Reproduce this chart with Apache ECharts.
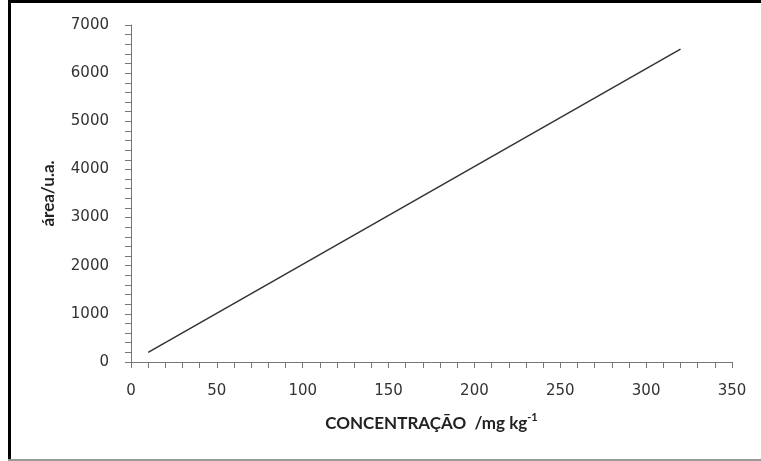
<!DOCTYPE html>
<html>
<head>
<meta charset="utf-8">
<script src="https://cdn.jsdelivr.net/npm/echarts@6/dist/echarts.min.js"></script>
<style>html,body{margin:0;padding:0;background:#fff}#c{width:761px;height:461px}</style>
</head>
<body>
<div id="c"></div>
<script>
var concentration = [10, 320];
var area = [200, 6500];
var xTicks = [0, 50, 100, 150, 200, 250, 300, 350];
var yTicks = [0, 1000, 2000, 3000, 4000, 5000, 6000, 7000];

var chart = echarts.init(document.getElementById('c'), null, {renderer: 'canvas'});
function plain(v) { return String(v); }
chart.setOption({
  animation: false,
  backgroundColor: '#fff',
  grid: {left: 131, right: 29, top: 25, bottom: 99},
  xAxis: {
    type: 'value', min: xTicks[0], max: xTicks[xTicks.length - 1], interval: 50,
    name: '{n|CONCENTRAÇÃO  /mg kg}{s|-1}',
    nameLocation: 'middle', nameGap: 50,
    nameTextStyle: {rich: {
      n: {fontFamily: 'Lato', fontWeight: 'bold', fontSize: 17, color: '#222', verticalAlign: 'bottom', lineHeight: 20},
      s: {fontFamily: 'Lato', fontWeight: 'bold', fontSize: 11, color: '#222', verticalAlign: 'top', lineHeight: 20, padding: [0,0,9,0]}
    }},
    axisLine: {show: true, lineStyle: {color: '#777', width: 1}},
    axisTick: {show: true, inside: false, length: 6, lineStyle: {color: '#777'}},
    minorTick: {show: true, splitNumber: 5, length: 6, lineStyle: {color: '#777'}},
    splitLine: {show: false},
    axisLabel: {margin: 22, color: '#333', fontFamily: 'DejaVu Sans', fontSize: 15, formatter: plain}
  },
  yAxis: {
    type: 'value', min: yTicks[0], max: yTicks[yTicks.length - 1], interval: 1000,
    name: 'área/u.a.',
    nameLocation: 'middle', nameGap: 74,
    nameTextStyle: {fontFamily: 'Lato', fontWeight: 'bold', fontSize: 17, color: '#222'},
    axisLine: {show: true, lineStyle: {color: '#777', width: 1}},
    axisTick: {show: true, inside: false, length: 6, lineStyle: {color: '#777'}},
    minorTick: {show: true, splitNumber: 5, length: 6, lineStyle: {color: '#777'}},
    splitLine: {show: false},
    axisLabel: {margin: 22, color: '#333', fontFamily: 'DejaVu Sans', fontSize: 15, formatter: plain}
  },
  series: [{
    type: 'line',
    data: concentration.map(function (x, i) { return [x, area[i]]; }),
    symbol: 'none',
    lineStyle: {color: '#333', width: 1.5}
  }],
  graphic: [
    {type: 'rect', shape: {x: 8, y: 0, width: 753, height: 3}, style: {fill: '#000'}, silent: true},
    {type: 'rect', shape: {x: 8, y: 0, width: 3, height: 461}, style: {fill: '#000'}, silent: true},
    {type: 'rect', shape: {x: 8, y: 459, width: 753, height: 2}, style: {fill: '#999'}, silent: true}
  ]
});
</script>
</body>
</html>
